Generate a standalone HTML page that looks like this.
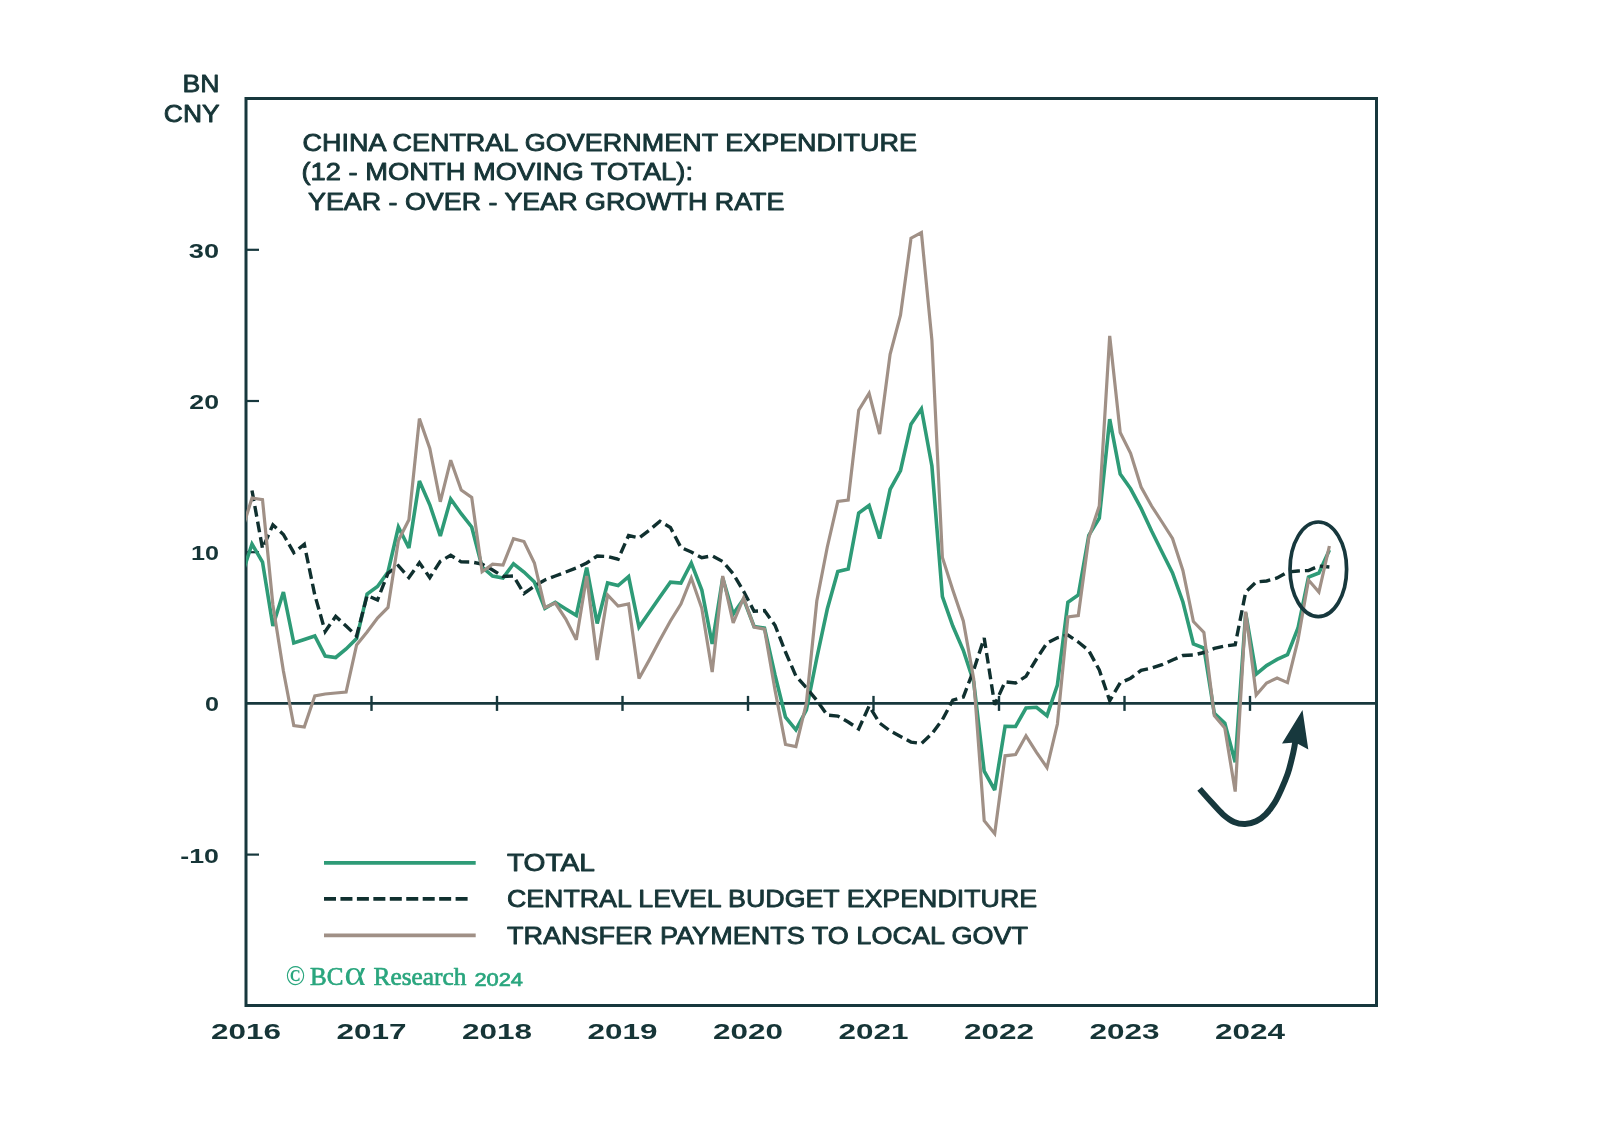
<!DOCTYPE html>
<html><head><meta charset="utf-8"><title>China Central Government Expenditure</title>
<style>
html,body{margin:0;padding:0;background:#fff;}
body{width:1598px;height:1144px;overflow:hidden;font-family:"Liberation Sans", sans-serif;}
svg{display:block;filter:blur(0.5px);}
</style></head><body>
<svg width="1598" height="1144" viewBox="0 0 1598 1144">
<defs><clipPath id="plot"><rect x="246.0" y="98.5" width="1130.5" height="907.0"/></clipPath></defs>
<rect width="1598" height="1144" fill="#ffffff"/>
<rect x="246.0" y="98.5" width="1130.5" height="907.0" fill="none" stroke="#17383d" stroke-width="3"/>
<line x1="246.0" y1="703.4" x2="1376.5" y2="703.4" stroke="#17383d" stroke-width="2.6"/>
<line x1="246.0" y1="249.8" x2="259.0" y2="249.8" stroke="#17383d" stroke-width="2.2"/>
<line x1="246.0" y1="401.0" x2="259.0" y2="401.0" stroke="#17383d" stroke-width="2.2"/>
<line x1="246.0" y1="552.2" x2="259.0" y2="552.2" stroke="#17383d" stroke-width="2.2"/>
<line x1="246.0" y1="854.6" x2="259.0" y2="854.6" stroke="#17383d" stroke-width="2.2"/>
<line x1="371.5" y1="695.9" x2="371.5" y2="710.9" stroke="#17383d" stroke-width="2.4"/>
<line x1="497.0" y1="695.9" x2="497.0" y2="710.9" stroke="#17383d" stroke-width="2.4"/>
<line x1="622.5" y1="695.9" x2="622.5" y2="710.9" stroke="#17383d" stroke-width="2.4"/>
<line x1="748.0" y1="695.9" x2="748.0" y2="710.9" stroke="#17383d" stroke-width="2.4"/>
<line x1="873.5" y1="695.9" x2="873.5" y2="710.9" stroke="#17383d" stroke-width="2.4"/>
<line x1="999.0" y1="695.9" x2="999.0" y2="710.9" stroke="#17383d" stroke-width="2.4"/>
<line x1="1124.5" y1="695.9" x2="1124.5" y2="710.9" stroke="#17383d" stroke-width="2.4"/>
<line x1="1250.0" y1="695.9" x2="1250.0" y2="710.9" stroke="#17383d" stroke-width="2.4"/>
<g clip-path="url(#plot)" fill="none" stroke-linejoin="miter" stroke-miterlimit="3">
<path d="M241.5,576.0 L252.0,544.0 L262.5,562.0 L272.9,626.0 L283.4,592.0 L293.8,643.0 L304.3,639.5 L314.8,636.0 L325.2,656.0 L335.7,657.5 L346.1,649.0 L356.6,638.5 L367.1,594.0 L377.5,586.5 L388.0,572.0 L398.4,527.0 L408.9,548.0 L419.4,481.0 L429.8,504.8 L440.3,536.0 L450.7,499.0 L461.2,513.7 L471.7,527.0 L482.1,567.0 L492.6,576.0 L503.0,578.0 L513.5,563.8 L524.0,572.0 L534.4,582.0 L544.9,608.4 L555.3,602.3 L565.8,609.0 L576.3,615.4 L586.7,567.7 L597.2,623.5 L607.6,583.0 L618.1,585.6 L628.6,576.7 L639.0,627.0 L649.5,612.0 L659.9,597.0 L670.4,582.2 L680.9,583.0 L691.3,563.0 L701.8,590.0 L712.2,644.0 L722.7,578.0 L733.2,614.0 L743.6,599.0 L754.1,626.5 L764.5,628.0 L775.0,675.0 L785.5,717.2 L795.9,729.8 L806.4,710.0 L816.8,658.0 L827.3,609.0 L837.8,571.5 L848.2,569.0 L858.7,513.0 L869.1,505.5 L879.6,538.5 L890.1,489.5 L900.5,470.5 L911.0,424.2 L921.4,408.8 L931.9,466.0 L942.4,596.6 L952.8,626.0 L963.3,650.3 L973.7,682.0 L984.2,771.2 L994.7,790.0 L1005.1,726.3 L1015.6,726.5 L1026.0,708.0 L1036.5,707.3 L1047.0,715.7 L1057.4,685.0 L1067.9,602.3 L1078.3,595.0 L1088.8,535.3 L1099.3,518.2 L1109.7,419.1 L1120.2,474.1 L1130.6,488.8 L1141.1,508.4 L1151.6,531.0 L1162.0,552.0 L1172.5,573.0 L1182.9,602.0 L1193.4,644.0 L1203.9,648.0 L1214.3,713.3 L1224.8,723.1 L1235.2,762.2 L1245.7,613.0 L1256.2,674.1 L1266.6,665.6 L1277.1,659.4 L1287.5,654.6 L1298.0,628.0 L1308.5,577.0 L1318.9,573.0 L1329.4,550.0" stroke="#2e9b77" stroke-width="3.6"/>
<path d="M252.0,490.5 L262.5,548.5 L272.9,524.8 L283.4,534.5 L293.8,552.7 L304.3,544.3 L314.8,595.0 L325.2,631.5 L335.7,616.4 L346.1,626.0 L356.6,636.0 L367.1,595.5 L377.5,600.0 L388.0,573.2 L398.4,565.7 L408.9,577.6 L419.4,562.8 L429.8,577.6 L440.3,561.3 L450.7,555.3 L461.2,561.9 L471.7,562.0 L482.1,564.0 L492.6,570.0 L503.0,576.5 L513.5,576.0 L524.0,593.5 L534.4,586.0 L544.9,580.0 L555.3,576.0 L565.8,572.0 L576.3,568.0 L586.7,563.0 L597.2,556.0 L607.6,556.5 L618.1,559.2 L628.6,535.5 L639.0,538.0 L649.5,530.0 L659.9,521.3 L670.4,527.5 L680.9,547.5 L691.3,552.0 L701.8,557.7 L712.2,555.8 L722.7,561.5 L733.2,573.7 L743.6,591.3 L754.1,611.2 L764.5,610.6 L775.0,625.2 L785.5,652.0 L795.9,676.0 L806.4,687.8 L816.8,700.4 L827.3,715.1 L837.8,716.1 L848.2,722.0 L858.7,729.0 L869.1,706.0 L879.6,723.0 L890.1,730.9 L900.5,736.5 L911.0,742.1 L921.4,743.5 L931.9,733.7 L942.4,719.7 L952.8,700.2 L963.3,697.0 L973.7,670.0 L984.2,638.0 L994.7,704.7 L1005.1,681.8 L1015.6,683.0 L1026.0,676.4 L1036.5,659.0 L1047.0,643.0 L1057.4,637.8 L1067.9,635.0 L1078.3,642.0 L1088.8,650.6 L1099.3,670.0 L1109.7,700.7 L1120.2,682.9 L1130.6,678.2 L1141.1,670.3 L1151.6,668.1 L1162.0,664.7 L1172.5,660.0 L1182.9,655.5 L1193.4,655.0 L1203.9,652.5 L1214.3,648.4 L1224.8,646.0 L1235.2,644.8 L1245.7,592.0 L1256.2,582.0 L1266.6,581.0 L1277.1,578.0 L1287.5,572.0 L1298.0,571.0 L1308.5,570.5 L1318.9,566.0 L1329.4,567.0" stroke="#10302f" stroke-width="3.4" stroke-dasharray="10.8 5"/>
<path d="M241.5,532.0 L252.0,498.0 L262.5,499.6 L272.9,605.0 L283.4,671.0 L293.8,725.5 L304.3,727.0 L314.8,696.0 L325.2,694.0 L335.7,693.0 L346.1,692.0 L356.6,645.0 L367.1,632.0 L377.5,618.0 L388.0,607.5 L398.4,540.5 L408.9,519.7 L419.4,418.6 L429.8,448.4 L440.3,501.8 L450.7,460.2 L461.2,490.0 L471.7,497.4 L482.1,571.7 L492.6,564.2 L503.0,565.0 L513.5,538.7 L524.0,541.5 L534.4,563.0 L544.9,607.5 L555.3,603.0 L565.8,619.0 L576.3,639.7 L586.7,576.0 L597.2,660.0 L607.6,595.0 L618.1,606.0 L628.6,604.0 L639.0,678.5 L649.5,659.6 L659.9,640.0 L670.4,621.0 L680.9,604.0 L691.3,578.0 L701.8,608.3 L712.2,672.1 L722.7,576.0 L733.2,623.0 L743.6,598.0 L754.1,627.0 L764.5,629.2 L775.0,690.0 L785.5,744.5 L795.9,746.6 L806.4,703.0 L816.8,601.0 L827.3,547.0 L837.8,501.5 L848.2,500.0 L858.7,410.2 L869.1,393.4 L879.6,434.0 L890.1,354.3 L900.5,315.1 L911.0,238.2 L921.4,232.6 L931.9,340.0 L942.4,557.5 L952.8,590.0 L963.3,621.0 L973.7,679.0 L984.2,820.7 L994.7,833.7 L1005.1,755.8 L1015.6,754.6 L1026.0,735.8 L1036.5,752.3 L1047.0,767.6 L1057.4,724.0 L1067.9,617.0 L1078.3,615.5 L1088.8,537.7 L1099.3,505.9 L1109.7,335.9 L1120.2,432.5 L1130.6,453.3 L1141.1,487.0 L1151.6,506.0 L1162.0,522.0 L1172.5,538.5 L1182.9,570.5 L1193.4,621.5 L1203.9,632.5 L1214.3,715.7 L1224.8,728.0 L1235.2,791.6 L1245.7,611.7 L1256.2,695.0 L1266.6,683.0 L1277.1,678.0 L1287.5,682.6 L1298.0,640.0 L1308.5,580.0 L1318.9,592.0 L1329.4,546.0" stroke="#a09086" stroke-width="3.2"/>
</g>
<ellipse cx="1318.3" cy="569.3" rx="28.3" ry="47.3" fill="none" stroke="#17383d" stroke-width="3.7"/>
<path d="M1199.6,788.9 C1201.4,791.0 1206.7,797.0 1210.6,801.3 C1214.5,805.5 1219.1,811.0 1223.0,814.4 C1226.9,817.8 1230.3,820.3 1234.0,821.9 C1237.7,823.5 1241.4,824.1 1245.1,824.0 C1248.8,823.9 1252.7,822.9 1256.1,821.3 C1259.5,819.7 1262.6,817.5 1265.7,814.4 C1268.8,811.3 1272.1,806.9 1274.7,802.7 C1277.3,798.5 1279.3,793.8 1281.5,789.0 C1283.7,784.2 1286.0,778.6 1287.7,773.8 C1289.4,769.0 1290.4,764.3 1291.5,760.0 C1292.6,755.7 1293.5,752.0 1294.2,748.0 C1295.0,744.0 1295.7,738.0 1296.0,736.0" fill="none" stroke="#17383d" stroke-width="6"/>
<path d="M1302.5,710 L1308.3,749.5 L1295.5,742.5 L1282,743.5 Z" fill="#17383d"/>
<line x1="324" y1="862.9" x2="475.7" y2="862.9" stroke="#2e9b77" stroke-width="3.8"/>
<line x1="324" y1="898.9" x2="467.8" y2="898.9" stroke="#10302f" stroke-width="3.6" stroke-dasharray="12 4.45"/>
<line x1="324" y1="935.4" x2="475.7" y2="935.4" stroke="#a09086" stroke-width="3.6"/>
<text x="182.5" y="92.0" font-family='"Liberation Sans", sans-serif' font-size="24.5" font-weight="normal" fill="#163537" text-anchor="start" textLength="37.0" lengthAdjust="spacingAndGlyphs" stroke="#163537" stroke-width="0.85" stroke-linejoin="round">BN</text>
<text x="163.8" y="121.5" font-family='"Liberation Sans", sans-serif' font-size="24.5" font-weight="normal" fill="#163537" text-anchor="start" textLength="55.8" lengthAdjust="spacingAndGlyphs" stroke="#163537" stroke-width="0.85" stroke-linejoin="round">CNY</text>
<text x="188.8" y="257.8" font-family='"Liberation Sans", sans-serif' font-size="20.0" font-weight="bold" fill="#163537" text-anchor="start" textLength="30.2" lengthAdjust="spacingAndGlyphs">30</text>
<text x="189.3" y="409.0" font-family='"Liberation Sans", sans-serif' font-size="20.0" font-weight="bold" fill="#163537" text-anchor="start" textLength="29.7" lengthAdjust="spacingAndGlyphs">20</text>
<text x="191.0" y="560.2" font-family='"Liberation Sans", sans-serif' font-size="20.0" font-weight="bold" fill="#163537" text-anchor="start" textLength="28.0" lengthAdjust="spacingAndGlyphs">10</text>
<text x="205.0" y="711.4" font-family='"Liberation Sans", sans-serif' font-size="20.0" font-weight="bold" fill="#163537" text-anchor="start" textLength="14.0" lengthAdjust="spacingAndGlyphs">0</text>
<text x="180.3" y="862.6" font-family='"Liberation Sans", sans-serif' font-size="20.0" font-weight="bold" fill="#163537" text-anchor="start" textLength="38.7" lengthAdjust="spacingAndGlyphs">-10</text>
<text x="211.0" y="1038.5" font-family='"Liberation Sans", sans-serif' font-size="21.5" font-weight="bold" fill="#163537" text-anchor="start" textLength="70.0" lengthAdjust="spacingAndGlyphs">2016</text>
<text x="336.5" y="1038.5" font-family='"Liberation Sans", sans-serif' font-size="21.5" font-weight="bold" fill="#163537" text-anchor="start" textLength="70.0" lengthAdjust="spacingAndGlyphs">2017</text>
<text x="462.0" y="1038.5" font-family='"Liberation Sans", sans-serif' font-size="21.5" font-weight="bold" fill="#163537" text-anchor="start" textLength="70.0" lengthAdjust="spacingAndGlyphs">2018</text>
<text x="587.5" y="1038.5" font-family='"Liberation Sans", sans-serif' font-size="21.5" font-weight="bold" fill="#163537" text-anchor="start" textLength="70.0" lengthAdjust="spacingAndGlyphs">2019</text>
<text x="713.0" y="1038.5" font-family='"Liberation Sans", sans-serif' font-size="21.5" font-weight="bold" fill="#163537" text-anchor="start" textLength="70.0" lengthAdjust="spacingAndGlyphs">2020</text>
<text x="838.5" y="1038.5" font-family='"Liberation Sans", sans-serif' font-size="21.5" font-weight="bold" fill="#163537" text-anchor="start" textLength="70.0" lengthAdjust="spacingAndGlyphs">2021</text>
<text x="964.0" y="1038.5" font-family='"Liberation Sans", sans-serif' font-size="21.5" font-weight="bold" fill="#163537" text-anchor="start" textLength="70.0" lengthAdjust="spacingAndGlyphs">2022</text>
<text x="1089.5" y="1038.5" font-family='"Liberation Sans", sans-serif' font-size="21.5" font-weight="bold" fill="#163537" text-anchor="start" textLength="70.0" lengthAdjust="spacingAndGlyphs">2023</text>
<text x="1215.0" y="1038.5" font-family='"Liberation Sans", sans-serif' font-size="21.5" font-weight="bold" fill="#163537" text-anchor="start" textLength="70.0" lengthAdjust="spacingAndGlyphs">2024</text>
<text x="302.5" y="150.5" font-family='"Liberation Sans", sans-serif' font-size="23.5" font-weight="normal" fill="#163537" text-anchor="start" textLength="614.5" lengthAdjust="spacingAndGlyphs" stroke="#163537" stroke-width="0.85" stroke-linejoin="round">CHINA CENTRAL GOVERNMENT EXPENDITURE</text>
<text x="301.5" y="180.2" font-family='"Liberation Sans", sans-serif' font-size="23.5" font-weight="normal" fill="#163537" text-anchor="start" textLength="391.5" lengthAdjust="spacingAndGlyphs" stroke="#163537" stroke-width="0.85" stroke-linejoin="round">(12 - MONTH MOVING TOTAL):</text>
<text x="308.0" y="209.6" font-family='"Liberation Sans", sans-serif' font-size="23.5" font-weight="normal" fill="#163537" text-anchor="start" textLength="476.4" lengthAdjust="spacingAndGlyphs" stroke="#163537" stroke-width="0.85" stroke-linejoin="round">YEAR - OVER - YEAR GROWTH RATE</text>
<text x="506.9" y="871.3" font-family='"Liberation Sans", sans-serif' font-size="24.0" font-weight="normal" fill="#163537" text-anchor="start" textLength="88.1" lengthAdjust="spacingAndGlyphs" stroke="#163537" stroke-width="0.85" stroke-linejoin="round">TOTAL</text>
<text x="506.9" y="907.3" font-family='"Liberation Sans", sans-serif' font-size="24.0" font-weight="normal" fill="#163537" text-anchor="start" textLength="530.2" lengthAdjust="spacingAndGlyphs" stroke="#163537" stroke-width="0.85" stroke-linejoin="round">CENTRAL LEVEL BUDGET EXPENDITURE</text>
<text x="506.9" y="943.8" font-family='"Liberation Sans", sans-serif' font-size="24.0" font-weight="normal" fill="#163537" text-anchor="start" textLength="521.2" lengthAdjust="spacingAndGlyphs" stroke="#163537" stroke-width="0.85" stroke-linejoin="round">TRANSFER PAYMENTS TO LOCAL GOVT</text>
<text x="285.8" y="984.5" font-family='"Liberation Serif", serif' font-size="26.5" font-weight="bold" fill="#2aa67e" text-anchor="start" textLength="19.2" lengthAdjust="spacingAndGlyphs">&#169;</text>
<text x="310.0" y="985.0" font-family='"Liberation Serif", serif' font-size="25.5" font-weight="normal" fill="#2aa67e" text-anchor="start" textLength="33.4" lengthAdjust="spacingAndGlyphs" stroke="#2aa67e" stroke-width="0.7" stroke-linejoin="round">BC</text>
<text x="344.2" y="985.0" font-family='"Liberation Serif", serif' font-size="35.0" font-weight="normal" fill="#2aa67e" text-anchor="start" textLength="21.5" lengthAdjust="spacingAndGlyphs">&#945;</text>
<text x="373.6" y="985.0" font-family='"Liberation Serif", serif' font-size="25.5" font-weight="normal" fill="#2aa67e" text-anchor="start" textLength="92.7" lengthAdjust="spacingAndGlyphs" stroke="#2aa67e" stroke-width="0.7" stroke-linejoin="round">Research</text>
<text x="474.4" y="985.5" font-family='"Liberation Sans", sans-serif' font-size="19.0" font-weight="normal" fill="#2aa67e" text-anchor="start" textLength="48.6" lengthAdjust="spacingAndGlyphs" stroke="#2aa67e" stroke-width="0.7" stroke-linejoin="round">2024</text>
</svg>
</body></html>
